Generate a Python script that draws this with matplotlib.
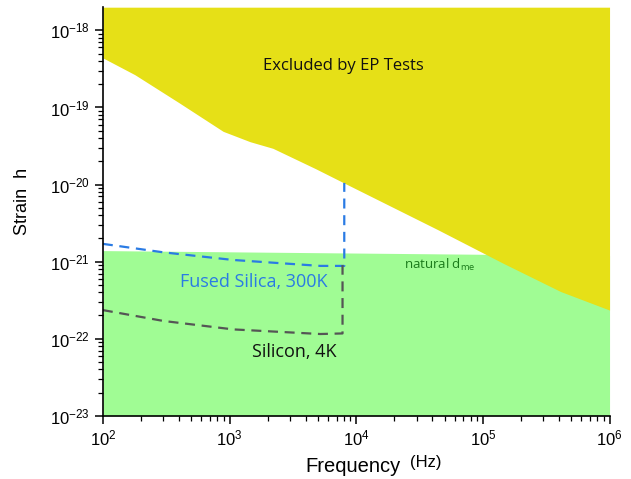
import numpy as np
import matplotlib
matplotlib.use('Agg')
import matplotlib.pyplot as plt
import matplotlib.ticker as ticker

plt.rcParams['font.family'] = ['Liberation Sans', 'DejaVu Sans']
plt.rcParams['mathtext.fontset'] = 'custom'
plt.rcParams['mathtext.rm'] = 'Liberation Sans'
plt.rcParams['mathtext.it'] = 'Liberation Sans:italic'

# lower edge of the region excluded by EP tests
ep_freq = [1e2, 1.79e2, 4e2, 8.9e2, 1.45e3, 2.2e3, 4.8e3, 8e3, 4.4e4, 1.45e5, 4.1e5, 1e6]
ep_strain = [4.4e-19, 2.66e-19, 1.15e-19, 4.9e-20, 3.6e-20, 2.95e-20, 1.6e-20, 1.05e-20, 2.6e-21, 9.5e-22, 4.1e-22, 2.35e-22]

# natural d_me region (upper edge)
dme_freq = [1e2, 1e6]
dme_strain = [1.39e-21, 1.2e-21]

# fused silica 300K
fs_freq = [1e2, 3e2, 1.07e3, 5.2e3, 8.05e3, 8.05e3]
fs_strain = [1.7e-21, 1.32e-21, 1.05e-21, 8.8e-22, 8.8e-22, 1.05e-20]

# silicon 4K
si_freq = [1e2, 3e2, 1.07e3, 5.2e3, 7.8e3, 7.8e3]
si_strain = [2.35e-22, 1.7e-22, 1.32e-22, 1.15e-22, 1.17e-22, 9e-22]

x_ticks = [1e2, 1e3, 1e4, 1e5, 1e6]
y_ticks = [1e-23, 1e-22, 1e-21, 1e-20, 1e-19, 1e-18]

fig = plt.figure(figsize=(6.31, 4.79), dpi=100)
ax = fig.add_axes([0.163, 0.132, 0.803, 0.853])
ax.set_xscale('log')
ax.set_yscale('log')
ax.set_xlim(1e2, 1e6)
ax.set_ylim(1e-23, 2.0e-18)

ax.fill_between(dme_freq, 1e-23, dme_strain, color='#a0fc94', lw=0, zorder=1)
ax.fill_between(ep_freq, ep_strain, 2.0e-18, color='#e6e017', lw=0, zorder=2)

ax.plot(fs_freq, fs_strain, ls=(0, (4.5, 3)), color='#2a7be4', lw=1.6, zorder=3)
ax.plot(si_freq, si_strain, ls=(0, (4.5, 3)), color='#555555', lw=1.6, zorder=3)

ax.text(0.474, 0.856, 'Excluded by EP Tests', transform=ax.transAxes, ha='center', va='center',
        fontsize=12, family='Open Sans', color='#111111')
ax.text(0.298, 0.327, 'Fused Silica, 300K', transform=ax.transAxes, ha='center', va='center',
        fontsize=13, family='Open Sans', color='#2a7be4')
ax.text(0.377, 0.156, 'Silicon, 4K', transform=ax.transAxes, ha='center', va='center',
        fontsize=13, family='Open Sans', color='#111111')
ax.text(0.594, 0.369, r'natural d$_{\mathregular{me}}$', transform=ax.transAxes, ha='left', va='center',
        fontsize=9.5, family='Open Sans', color='#1a7a1a')

for s in ['top', 'right']:
    ax.spines[s].set_visible(False)
for s in ['left', 'bottom']:
    ax.spines[s].set_linewidth(1.2)
    ax.spines[s].set_zorder(5)

minor_x = [m * 10.0 ** e for e in range(2, 6) for m in range(2, 10)]
minor_y = [m * 10.0 ** e for e in range(-23, -18) for m in range(2, 10) if m * 10.0 ** e <= 2.0e-18]
ax.xaxis.set_major_locator(ticker.FixedLocator(x_ticks))
ax.yaxis.set_major_locator(ticker.FixedLocator(y_ticks))
ax.xaxis.set_minor_locator(ticker.FixedLocator(minor_x))
ax.yaxis.set_minor_locator(ticker.FixedLocator(minor_y))
ax.xaxis.set_minor_formatter(ticker.NullFormatter())
ax.yaxis.set_minor_formatter(ticker.NullFormatter())
fmt = ticker.FuncFormatter(lambda v, _: r'$\mathregular{10^{%d}}$' % round(np.log10(v)))
ax.xaxis.set_major_formatter(fmt)
ax.yaxis.set_major_formatter(fmt)
ax.tick_params(which='major', length=6, width=1.1, labelsize=12, direction='out')
ax.tick_params(which='minor', length=3.5, width=0.9, direction='out')

fig.text(0.035, 0.58, 'Strain  h', rotation=90, ha='center', va='center', fontsize=13)
fig.text(0.56, 0.027, 'Frequency', ha='center', va='center', fontsize=14.5)
fig.text(0.675, 0.035, '(Hz)', ha='center', va='center', fontsize=12)

fig.savefig('out.png', dpi=100)
